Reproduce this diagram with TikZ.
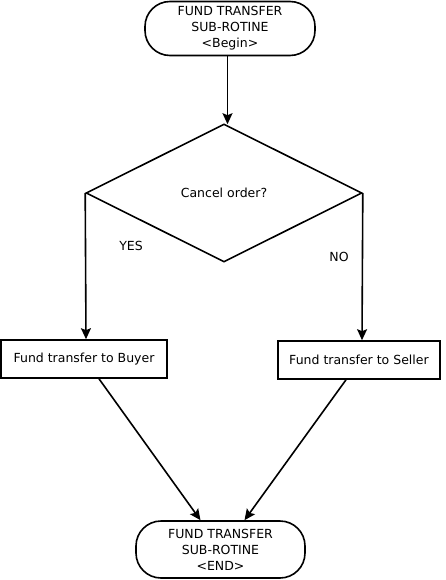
\documentclass[tikz,border=0pt]{standalone}
\usepackage{fontspec}
\setmainfont{DejaVu Sans}
\usetikzlibrary{shapes.geometric,arrows.meta}

\tikzset{
    terminal/.style={draw, line width=1.6pt, rounded corners=25pt, align=center,
        minimum width=170pt, minimum height=54pt, inner sep=0pt},
    process/.style={draw, line width=1.6pt, minimum height=38pt, inner sep=0pt},
    decision/.style={draw, diamond, line width=1.6pt, minimum width=276pt,
        minimum height=138pt, inner sep=0pt},
    flow/.style={line width=1.6pt, -{Stealth[length=11pt,width=10pt,inset=2pt]}}
}

\begin{document}
\begin{tikzpicture}[x=1pt, y=-1pt, font=\fontsize{12.5}{16}\selectfont]

    \useasboundingbox (0,0) rectangle (446,580);

    \node[terminal] (begin) at (230, 28.5) {FUND TRANSFER\\SUB-ROTINE\\<Begin>};
    \node[decision] (cancel) at (224, 193) {Cancel order?};
    \node[process, minimum width=166pt] (buyer) at (84, 359) {Fund transfer to Buyer};
    \node[process, minimum width=162pt] (seller) at (359, 360) {Fund transfer to Seller};
    \node[terminal, minimum width=169pt, minimum height=57pt] (end) at (220.5, 549.5) {FUND TRANSFER\\SUB-ROTINE\\<END>};

    \node (yes) at (131, 246) {YES};
    \node (no) at (339, 257) {NO};

    \draw [flow] ([xshift=-2.5pt]begin.south) -- ([xshift=-2.5pt, yshift=-1pt]begin.south |- cancel.north);
    \draw [flow] (cancel.west) -- ([xshift=2pt]buyer.north);
    \draw [flow] (cancel.east) -- ([xshift=3pt]seller.north);

    \draw [flow] ([xshift=15pt]buyer.south) -- ([xshift=-20pt]end.north);
    \draw [flow] ([xshift=-13pt]seller.south) -- ([xshift=24pt]end.north);

\end{tikzpicture}
\end{document}
